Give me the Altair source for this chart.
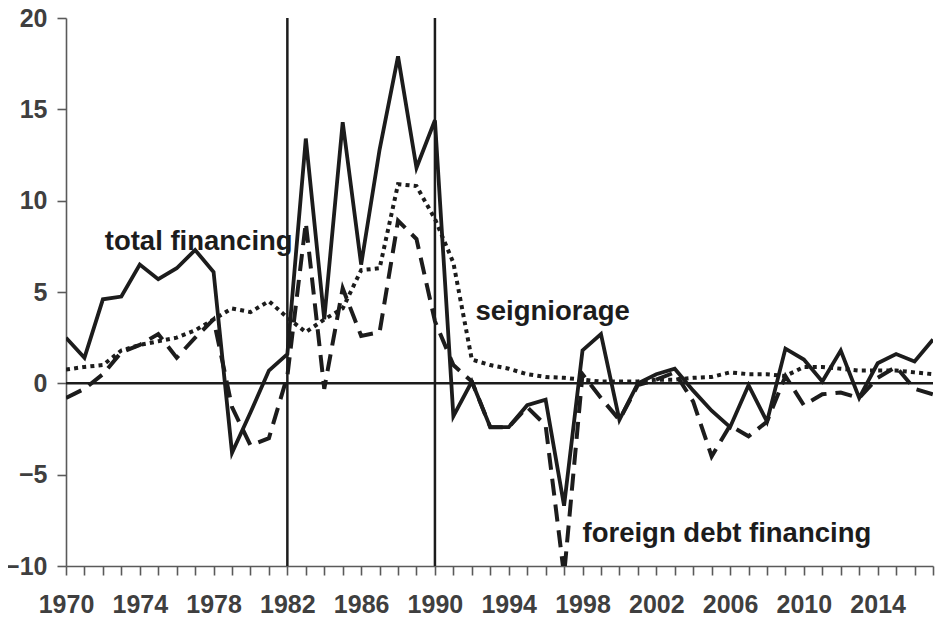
import altair as alt
import pandas as pd

years = list(range(1970, 2018))

total_financing = [
    2.5, 1.4, 4.6, 4.75, 6.5, 5.7, 6.3, 7.3, 6.1, -3.8,
    -1.6, 0.7, 1.6, 13.4, 3.5, 14.3, 6.5, 12.8, 17.9, 11.8,
    14.4, -1.8, 0.1, -2.4, -2.4, -1.2, -0.9, -6.7, 1.8, 2.7,
    -2.0, 0.0, 0.5, 0.8, -0.4, -1.5, -2.4, -0.1, -2.1, 1.9,
    1.3, 0.1, 1.8, -0.8, 1.1, 1.6, 1.2, 2.4,
]
seigniorage = [
    0.75, 0.9, 1.0, 1.8, 2.1, 2.3, 2.5, 2.9, 3.5, 4.1,
    3.9, 4.5, 3.6, 2.8, 3.5, 4.1, 6.2, 6.3, 10.9, 10.8,
    9.0, 6.6, 1.3, 1.0, 0.8, 0.5, 0.35, 0.3, 0.2, 0.1,
    0.1, 0.1, 0.2, 0.2, 0.3, 0.35, 0.6, 0.5, 0.5, 0.4,
    0.9, 0.9, 0.8, 0.7, 0.7, 0.7, 0.6, 0.5,
]
foreign_debt = [
    -0.8, -0.3, 0.5, 1.7, 2.1, 2.7, 1.4, 2.5, 3.5, -1.3,
    -3.4, -3.0, 0.4, 8.8, -0.3, 5.2, 2.6, 2.8, 8.9, 7.9,
    3.4, 1.0, 0.1, -2.4, -2.4, -1.3, -2.3, -10.5, 0.5, -0.8,
    -2.0, -0.1, 0.2, 0.6, -1.0, -4.0, -2.3, -2.9, -2.1, 0.4,
    -1.2, -0.6, -0.5, -0.8, 0.3, 0.9, -0.3, -0.6,
]

period_marks = [1982, 1990]
y_ticks = [-10, -5, 0, 5, 10, 15, 20]

label_texts = ["total financing", "seigniorage", "foreign debt financing"]
label_x = [1972.1, 1992.2, 1998.0]
label_y = [7.3, 3.45, -8.7]

df = pd.DataFrame({
    "year": years,
    "total": total_financing,
    "seign": seigniorage,
    "foreign": foreign_debt,
})
labels_df = pd.DataFrame({"text": label_texts, "x": label_x, "y": label_y})
vlines_df = pd.DataFrame({"year": period_marks})
zero_df = pd.DataFrame({"y": [0]})

FONT = "Liberation Sans"
INK = "#1c1c1c"

x_scale = alt.Scale(domain=[1970, 2017], nice=False, zero=False)
y_scale = alt.Scale(domain=[-10, 20], nice=False)

x_axis = alt.Axis(
    values=years,
    labelExpr="(datum.value - 1970) % 4 == 0 ? datum.value : ''",
    labelOverlap=False,
    labelFlush=False,
    tickSize=9,
    labelPadding=17,
    title=None,
    grid=False,
)
y_axis = alt.Axis(
    values=y_ticks,
    tickSize=9,
    labelPadding=10,
    title=None,
    grid=False,
)

base = alt.Chart(df)

zero_line = alt.Chart(zero_df).mark_rule(color=INK, strokeWidth=2.5).encode(
    y=alt.Y("y:Q", scale=y_scale, axis=y_axis)
)
vlines = alt.Chart(vlines_df).mark_rule(color=INK, strokeWidth=2.5).encode(
    x=alt.X("year:Q", scale=x_scale, axis=x_axis)
)

seign_line = base.mark_line(
    color=INK, strokeWidth=4, strokeDash=[4, 4.2], clip=True
).encode(
    x=alt.X("year:Q", scale=x_scale, axis=x_axis),
    y=alt.Y("seign:Q", scale=y_scale, axis=y_axis),
)
foreign_line = base.mark_line(
    color=INK, strokeWidth=4, strokeDash=[17, 9], clip=True
).encode(
    x=alt.X("year:Q", scale=x_scale, axis=x_axis),
    y=alt.Y("foreign:Q", scale=y_scale, axis=y_axis),
)
total_line = base.mark_line(
    color=INK, strokeWidth=3.8, clip=True
).encode(
    x=alt.X("year:Q", scale=x_scale, axis=x_axis),
    y=alt.Y("total:Q", scale=y_scale, axis=y_axis),
)

texts = alt.Chart(labels_df).mark_text(
    align="left", baseline="alphabetic", fontSize=27.5, fontWeight="bold",
    font=FONT, color=INK,
).encode(
    x=alt.X("x:Q", scale=x_scale, axis=x_axis),
    y=alt.Y("y:Q", scale=y_scale, axis=y_axis),
    text="text:N",
)

chart = alt.layer(
    zero_line, vlines, seign_line, foreign_line, total_line, texts
).properties(
    width=867,
    height=548,
    padding={"left": 58, "top": 10, "right": 2, "bottom": 55},
    autosize=alt.AutoSizeParams(type="none"),
).configure_view(
    stroke=None
).configure_axis(
    labelFont=FONT,
    labelFontSize=25,
    labelFontWeight="bold",
    labelColor="#3f3f3f",
    domainColor="#5a5a5a",
    domainWidth=1.6,
    tickColor="#5a5a5a",
    tickWidth=1.6,
)

chart.save("out.html", embed_options={"renderer": "svg", "actions": False})
